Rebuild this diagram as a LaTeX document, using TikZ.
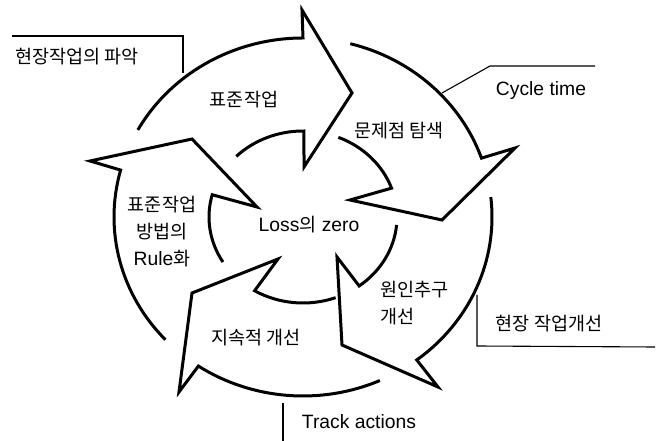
\documentclass[tikz,border=0pt]{standalone}
\usepackage{fontspec}
\setmainfont{Liberation Sans}
\newfontfamily\korfont{Noto Sans CJK KR}
\newcommand\ko[1]{{\fontsize{18.5}{27}\korfont #1}}
\begin{document}
\begin{tikzpicture}[x=1pt,y=1pt,
  arr/.style={line width=3pt, line join=miter, miter limit=20},
  lead/.style={line width=1.1pt},
  lbl/.style={inner sep=0pt, font=\fontsize{19.3}{27}\selectfont, align=center}]
\useasboundingbox (0,0) rectangle (663,441);
\coordinate (C) at (303,224);
% arrow 1 (top)
\draw[arr] ([shift={(150.9:189pt and 179pt)}]C)
  arc[start angle=150.9, end angle=90, x radius=189pt, y radius=179pt]
  -- (302,431) -- (352,348) -- (304,274)
  -- ([shift={(89.4:94pt and 86pt)}]C)
  arc[start angle=89.4, end angle=135.2, x radius=94pt, y radius=86pt];
% arrow 2 (upper right)
\draw[arr] ([shift={(75.5:189pt and 179pt)}]C)
  arc[start angle=75.5, end angle=19.2, x radius=189pt, y radius=179pt]
  -- (515,293) -- (442,221) -- (350,241)
  -- ([shift={(19.6:94pt and 86pt)}]C)
  arc[start angle=19.6, end angle=67.9, x radius=94pt, y radius=86pt];
% arrow 3 (lower right)
\draw[arr] ([shift={(6.4:189pt and 179pt)}]C)
  arc[start angle=6.4, end angle=-53, x radius=189pt, y radius=179pt]
  -- (438,54) -- (342,96) -- (337,184)
  -- ([shift={(-53.3:94pt and 86pt)}]C)
  arc[start angle=-53.3, end angle=-5.3, x radius=94pt, y radius=86pt];
% arrow 4 (bottom)
\draw[arr] ([shift={(-66:189pt and 179pt)}]C)
  arc[start angle=-66, end angle=-123.6, x radius=189pt, y radius=179pt]
  -- (179,49) -- (192,148) -- (278,182)
  -- ([shift={(-121:94pt and 86pt)}]C)
  arc[start angle=-121, end angle=-69.7, x radius=94pt, y radius=86pt];
% arrow 5 (left)
\draw[arr] ([shift={(223.3:189pt and 179pt)}]C)
  arc[start angle=223.3, end angle=164.8, x radius=189pt, y radius=179pt]
  -- (90,280) -- (192,302) -- (257,234)
  -- ([shift={(165:94pt and 86pt)}]C)
  arc[start angle=165, end angle=211.6, x radius=94pt, y radius=86pt];
% leader lines
\coordinate (l1a) at (12,405); \coordinate (l1b) at (183,405); \coordinate (l1c) at (183,368);
\coordinate (l2a) at (442,348); \coordinate (l2b) at (490,375); \coordinate (l2c) at (595,375);
\coordinate (l3a) at (477,146); \coordinate (l3b) at (477,95); \coordinate (l3c) at (655,94);
\coordinate (l4a) at (283,38); \coordinate (l4b) at (283,0);
\draw[lead] (l1a) -- (l1b) -- (l1c);
\draw[lead] (l2a) -- (l2b) -- (l2c);
\draw[lead] (l3a) -- (l3b) -- (l3c);
\draw[lead] (l4a) -- (l4b);
% labels
\node[lbl] (t1) at (77,384) {\ko{현장작업의 파악}};
\node[lbl] (t2) at (244,341) {\ko{표준작업}};
\node[lbl] (t3) at (399,310) {\ko{문제점 탐색}};
\node[lbl] (t4) at (541,350) {Cycle time};
\node[lbl] (t5) at (309,216) {Loss\ko{의} zero};
\node[lbl] (t6) at (162,209) {\ko{표준작업}\\\ko{방법의}\\Rule\ko{화}};
\node[lbl, anchor=west, align=left] (t7) at (380,138) {\ko{원인추구}\\\ko{개선}};
\node[lbl] (t8) at (549,117) {\ko{현장 작업개선}};
\node[lbl] (t9) at (256,103) {\ko{지속적 개선}};
\node[lbl] (t10) at (359,19) {Track actions};
\end{tikzpicture}
\end{document}
